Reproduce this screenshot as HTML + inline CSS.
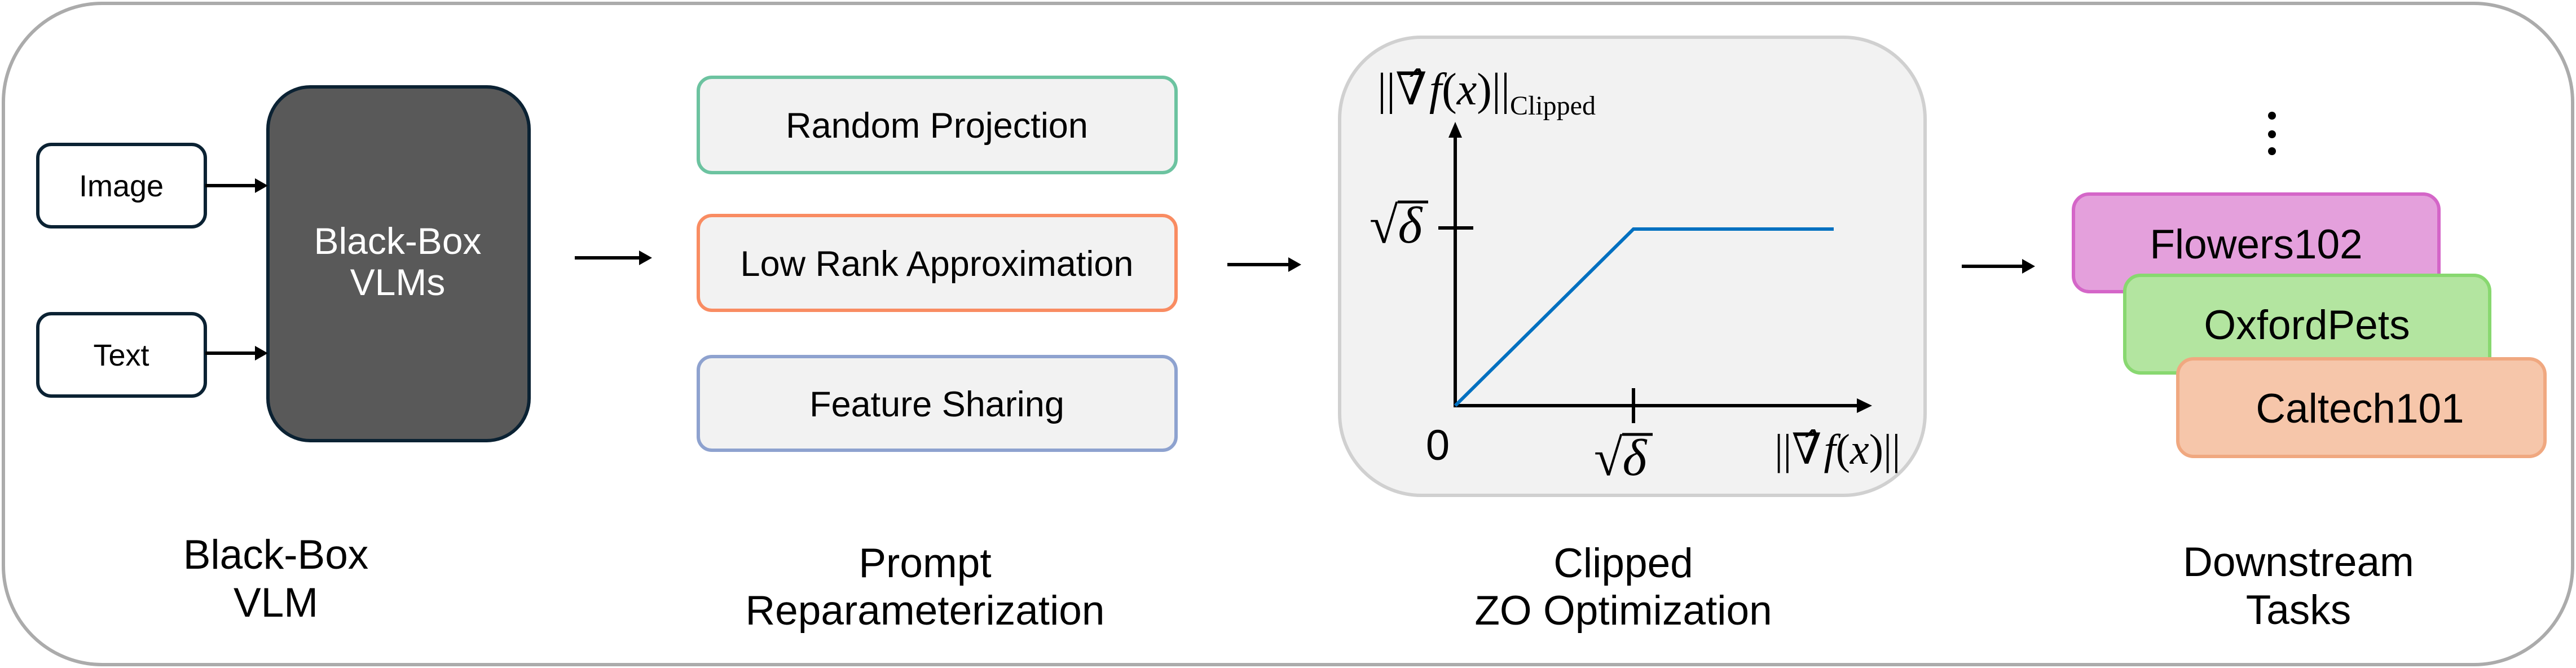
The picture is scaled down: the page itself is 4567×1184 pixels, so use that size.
<!DOCTYPE html>
<html><head><meta charset="utf-8"><style>
html,body{margin:0;padding:0;background:#fff;}
svg{display:block;}
text{font-family:"Liberation Sans",Arial,sans-serif;}
.m{font-family:"Liberation Serif","DejaVu Serif",serif;font-style:italic;}
</style></head><body>
<svg width="4567" height="1184" viewBox="0 0 4567 1184" xmlns="http://www.w3.org/2000/svg">
<rect x="6" y="6" width="4555" height="1172" rx="175" fill="#fff" stroke="#ababab" stroke-width="6"/>

<rect x="67" y="256" width="297" height="146" rx="24" fill="#fff" stroke="#0b2233" stroke-width="6"/>
<text x="215" y="348" font-size="54" text-anchor="middle">Image</text>
<rect x="67" y="556" width="297" height="146" rx="24" fill="#fff" stroke="#0b2233" stroke-width="6"/>
<text x="215" y="648" font-size="54" text-anchor="middle">Text</text>
<rect x="475" y="154" width="463" height="627" rx="75" fill="#595959" stroke="#0b2233" stroke-width="6"/>
<text x="705" y="450" font-size="66" fill="#fff" text-anchor="middle">Black-Box</text>
<text x="705" y="523" font-size="66" fill="#fff" text-anchor="middle">VLMs</text>
<line x1="364" y1="329" x2="455" y2="329" stroke="#000" stroke-width="6"/>
<polygon points="452,316 475,329 452,342" fill="#000"/>
<line x1="364" y1="626" x2="455" y2="626" stroke="#000" stroke-width="6"/>
<polygon points="452,613 475,626 452,639" fill="#000"/>
<text x="489" y="1008" font-size="73" text-anchor="middle">Black-Box</text>
<text x="489" y="1093" font-size="73" text-anchor="middle">VLM</text>

<line x1="1019" y1="457" x2="1136" y2="457" stroke="#000" stroke-width="6"/>
<polygon points="1133,444 1156,457 1133,470" fill="#000"/>

<rect x="1238" y="137" width="847" height="169" rx="24" fill="#f2f2f2" stroke="#6cc3a0" stroke-width="6"/>
<text x="1661" y="244" font-size="63" text-anchor="middle">Random Projection</text>
<rect x="1238" y="382" width="847" height="168" rx="24" fill="#f2f2f2" stroke="#f98c62" stroke-width="6"/>
<text x="1661" y="489" font-size="63" text-anchor="middle">Low Rank Approximation</text>
<rect x="1238" y="632" width="847" height="166" rx="24" fill="#f2f2f2" stroke="#8ea2cf" stroke-width="6"/>
<text x="1661" y="738" font-size="63" text-anchor="middle">Feature Sharing</text>
<text x="1640" y="1023" font-size="73" text-anchor="middle">Prompt</text>
<text x="1640" y="1107" font-size="73" text-anchor="middle">Reparameterization</text>

<line x1="2176" y1="469" x2="2287" y2="469" stroke="#000" stroke-width="6"/>
<polygon points="2284,456 2307,469 2284,482" fill="#000"/>

<rect x="2375" y="66" width="1038" height="812" rx="145" fill="#f2f2f2" stroke="#d0d0d0" stroke-width="6"/>
<line x1="2580" y1="719" x2="2580" y2="240" stroke="#000" stroke-width="6"/>
<polygon points="2568,244 2580,216 2592,244" fill="#000"/>
<line x1="2577" y1="719" x2="3295" y2="719" stroke="#000" stroke-width="6"/>
<polygon points="3292,706 3319,719 3292,732" fill="#000"/>
<line x1="2550" y1="404" x2="2612" y2="404" stroke="#000" stroke-width="6"/>
<line x1="2896" y1="688" x2="2896" y2="750" stroke="#000" stroke-width="6"/>
<polyline points="2580,719 2896,406 3251,406" fill="none" stroke="#0070c0" stroke-width="6"/>
<text x="2442" y="185" font-size="80" class="m"><tspan font-style="normal">||</tspan>∇̂<tspan dx="4">f</tspan><tspan font-style="normal">(</tspan>x<tspan font-style="normal">)||</tspan><tspan font-size="48" font-style="normal" dy="18">Clipped</tspan></text>
<text x="2428" y="430" font-size="92" class="m"><tspan font-style="normal">√</tspan>δ</text>
<line x1="2478" y1="358" x2="2532" y2="358" stroke="#000" stroke-width="5"/>
<text x="2549" y="815" font-size="76" font-family="Liberation Serif,serif" text-anchor="middle">0</text>
<text x="2826" y="842" font-size="92" class="m"><tspan font-style="normal">√</tspan>δ</text>
<line x1="2876" y1="770" x2="2930" y2="770" stroke="#000" stroke-width="5"/>
<text x="3146" y="822" font-size="76" class="m"><tspan font-style="normal">||</tspan>∇̂<tspan dx="4">f</tspan><tspan font-style="normal">(</tspan>x<tspan font-style="normal">)||</tspan></text>
<text x="2878" y="1023" font-size="73" text-anchor="middle">Clipped</text>
<text x="2878" y="1107" font-size="73" text-anchor="middle">ZO Optimization</text>

<line x1="3478" y1="472" x2="3588" y2="472" stroke="#000" stroke-width="6"/>
<polygon points="3585,459 3608,472 3585,485" fill="#000"/>

<circle cx="4028" cy="205" r="7" fill="#000"/>
<circle cx="4028" cy="238" r="7" fill="#000"/>
<circle cx="4028" cy="268" r="7" fill="#000"/>

<rect x="3676" y="344" width="648" height="173" rx="28" fill="#e4a0dc" stroke="#d466c8" stroke-width="6"/>
<text x="4000" y="458" font-size="73" text-anchor="middle">Flowers102</text>
<rect x="3767" y="488" width="647" height="173" rx="28" fill="#b3e5a0" stroke="#88d870" stroke-width="6"/>
<text x="4090" y="601" font-size="73" text-anchor="middle">OxfordPets</text>
<rect x="3861" y="636" width="651" height="173" rx="28" fill="#f6c6aa" stroke="#f0a880" stroke-width="6"/>
<text x="4184" y="749" font-size="73" text-anchor="middle">Caltech101</text>
<text x="4075" y="1021" font-size="73" text-anchor="middle">Downstream</text>
<text x="4075" y="1106" font-size="73" text-anchor="middle">Tasks</text>
</svg>
</body></html>
